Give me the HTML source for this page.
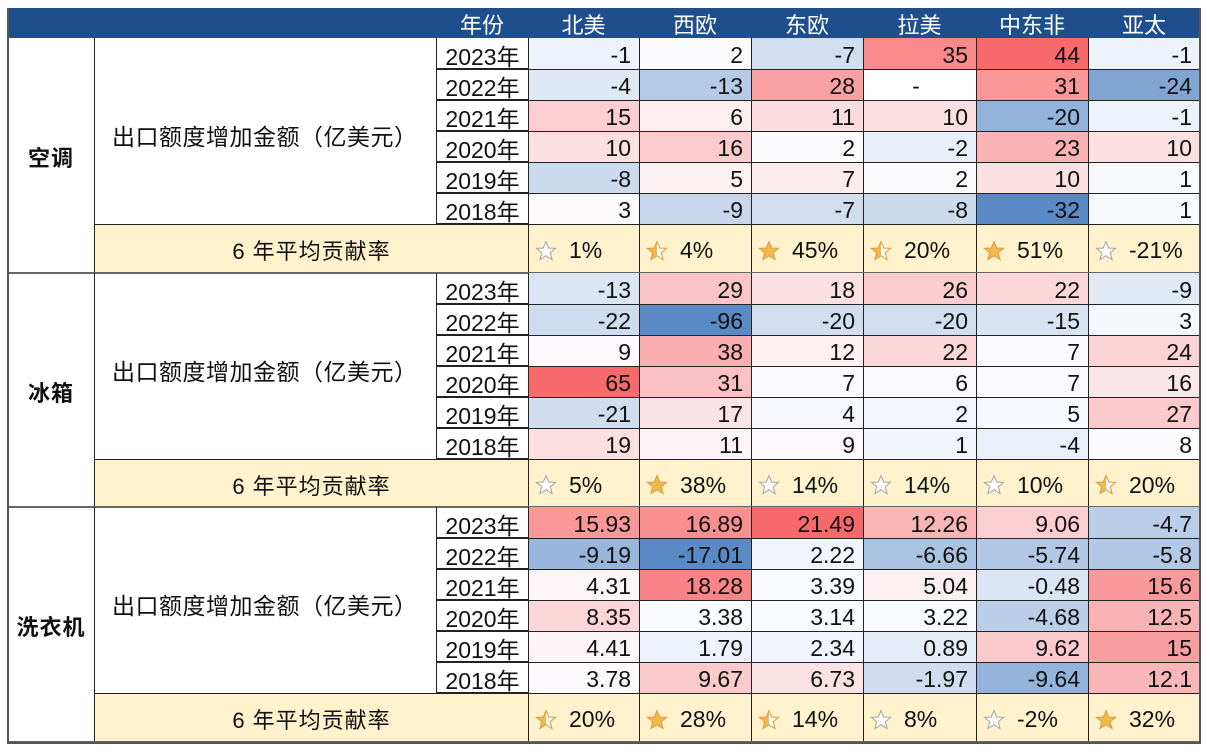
<!DOCTYPE html>
<html><head><meta charset="utf-8">
<style>
body{margin:0;width:1210px;height:752px;background:#fff;position:relative;overflow:hidden;
font-family:"Liberation Sans Narrow","Liberation Sans","Noto Sans CJK SC",sans-serif;}
.c{position:absolute;box-sizing:border-box;display:flex;align-items:center;font-size:23px;color:#111;padding-top:3px;}
.h{color:#fff;justify-content:center;font-family:"Liberation Sans","Noto Sans CJK SC",sans-serif;font-size:22px;}
.cjk{font-family:"Liberation Sans","Noto Sans CJK SC",sans-serif;}
</style></head><body>
<script>
const X=[8,95,436,528,639,751,863,976,1088,1200];
const root=document.body;
function cell(x1,y1,x2,y2,html,st,cls){const d=document.createElement('div');d.className='c '+(cls||'');
d.style.cssText+=`left:${x1}px;top:${y1}px;width:${x2-x1}px;height:${y2-y1}px;`+(st||'');d.innerHTML=html;root.appendChild(d);return d;}
cell(8,8,1200,38,'','background:#1F4E8C;padding-top:0;');
const hd=['年份','北美','西欧','东欧','拉美','中东非','亚太'];
hd.forEach((t,i)=>cell(X[i+2],8,X[i+3],38,t,'padding-top:2px;','h'));
const secs=[
{name:'空调',top:38,avgH:49,data:[[-1,2,-7,35,44,-1],[-4,-13,28,null,31,-24],[15,6,11,10,-20,-1],[10,16,2,-2,23,10],[-8,5,7,2,10,1],[3,-9,-7,-8,-32,1]],
avg:[['e','1%'],['h','4%'],['f','45%'],['h','20%'],['f','51%'],['e','-21%']]},
{name:'冰箱',top:273,avgH:48,data:[[-13,29,18,26,22,-9],[-22,-96,-20,-20,-15,3],[9,38,12,22,7,24],[65,31,7,6,7,16],[-21,17,4,2,5,27],[19,11,9,1,-4,8]],
avg:[['e','5%'],['f','38%'],['e','14%'],['e','14%'],['e','10%'],['h','20%']]},
{name:'洗衣机',top:507,avgH:49,data:[['15.93','16.89','21.49','12.26','9.06','-4.7'],['-9.19','-17.01','2.22','-6.66','-5.74','-5.8'],['4.31','18.28','3.39','5.04','-0.48','15.6'],['8.35','3.38','3.14','3.22','-4.68','12.5'],['4.41','1.79','2.34','0.89','9.62','15'],['3.78','9.67','6.73','-1.97','-9.64','12.1']],
avg:[['h','20%'],['f','28%'],['h','14%'],['e','8%'],['e','-2%'],['f','32%']]}
];
const years=['2023年','2022年','2021年','2020年','2019年','2018年'];
function lerp(a,b,t){return a.map((v,i)=>Math.round(v+(b[i]-v)*t));}
const MIN=[90,138,198],MID=[252,252,255],MAX=[248,105,107];
function star(k){
 const p="M10 1.5 L12.5 7.3 L18.7 7.6 L13.9 11.6 L15.5 17.8 L10 14.3 L4.5 17.8 L6.1 11.6 L1.3 7.6 L7.5 7.3 Z";
 let fill=k=='f'?'#F2B84B':k=='h'?'url(#hg)':'#fff';
 return `<svg width="22" height="22" viewBox="0 0 20 20" style="margin-left:6px;margin-right:12px"><defs><linearGradient id="hg"><stop offset="50%" stop-color="#F2B84B"/><stop offset="50%" stop-color="#fff"/></linearGradient></defs><path d="${p}" fill="${fill}" stroke="${k=='e'?'#aaa':'#D9A24A'}" stroke-width="1"/></svg>`;
}
secs.forEach(s=>{
 const vals=[];s.data.forEach(r=>r.forEach(v=>{if(v!==null)vals.push(parseFloat(v));}));
 const sorted=vals.slice().sort((a,b)=>a-b);const n=sorted.length;
 const med=n%2?sorted[(n-1)/2]:(sorted[n/2-1]+sorted[n/2])/2;
 const mn=sorted[0],mx=sorted[n-1];
 const rowsBottom=s.top+186, bot=rowsBottom+s.avgH;
 cell(X[0],s.top,X[1],bot,s.name,'justify-content:center;font-weight:bold;font-size:22px;letter-spacing:1px;border-right:1px solid #222;','cjk');
 cell(X[1],s.top,X[2],rowsBottom,'出口额度增加金额（亿美元）','padding-left:17px;font-size:23px;letter-spacing:0.5px;padding-top:8px;','cjk');
 cell(X[1],rowsBottom,X[9],bot,'','background:#FFF2CC;border-top:1px solid #222;');
 cell(X[1],rowsBottom,X[3],bot,'6 年平均贡献率','justify-content:center;font-size:22px;letter-spacing:1px;','cjk');
 s.data.forEach((r,ri)=>{
  const y=s.top+ri*31;
  cell(X[2],y,X[3],y+31,years[ri],'justify-content:center;border:1px solid #222;border-right:none;border-top:'+(ri?'1px solid #222':'none')+';');
  r.forEach((v,ci)=>{
   let bg='#fff',txt='-';
   if(v!==null){const f=parseFloat(v);txt=String(v);
    let c=f<=med?lerp(MIN,MID,(f-mn)/(med-mn||1)):lerp(MID,MAX,(f-med)/(mx-med||1));
    bg=`rgb(${c})`;}
   cell(X[ci+3],y,X[ci+4],y+31,txt,`background:${bg};justify-content:${v===null?'center':'flex-end'};padding-right:8px;border-left:1px solid #222;border-top:${ri?'1px solid #222':'none'};`);
  });
 });
 s.avg.forEach((a,ci)=>{
  cell(X[ci+3],rowsBottom,X[ci+4],bot,star(a[0])+a[1],'border-left:1px solid #222;border-top:1px solid #222;');
 });
 cell(X[0],bot-1,X[9],bot+1,'','background:#666;padding-top:0;');
});
cell(7,8,1201,744,'','border:2px solid #555;border-top:none;padding-top:0;');
</script>
</body></html>
